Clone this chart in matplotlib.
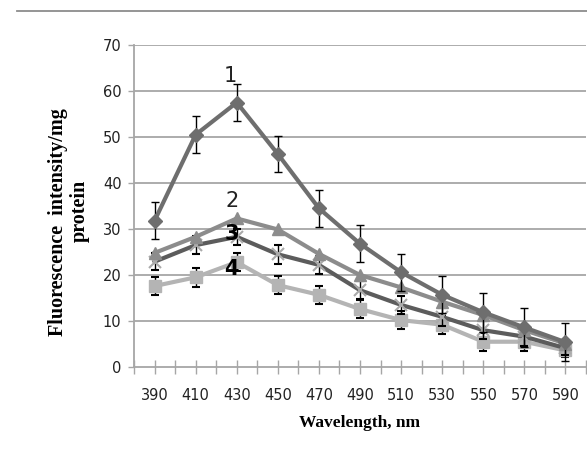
import matplotlib
matplotlib.use("Agg")
import matplotlib.pyplot as plt
from matplotlib.lines import Line2D
import numpy as np

wavelengths = [390, 410, 430, 450, 470, 490, 510, 530, 550, 570, 590]
series1 = [31.8, 50.5, 57.5, 46.3, 34.5, 26.8, 20.6, 15.7, 11.9, 8.6, 5.4]
err1 = [4, 4, 4, 4, 4, 4, 4, 4, 4.2, 4.2, 4.2]
series2 = [24.8, 28.3, 32.3, 29.9, 24.6, 20.0, 17.3, 14.2, 11.3, 8.0, 5.1]
series3 = [22.9, 26.5, 28.3, 24.5, 22.2, 16.7, 13.5, 10.9, 8.0, 6.6, 4.1]
err3 = [1.8, 2, 1.8, 2, 2, 2, 2, 2, 2, 2, 1.5]
series4 = [17.6, 19.5, 22.8, 17.8, 15.7, 12.6, 10.2, 9.2, 5.5, 5.5, 3.6]
err4 = [2, 2, 2, 2, 2, 2, 2, 2, 2, 2, 1.5]
labels = ["1", "2", "3", "4"]
yticks = [0, 10, 20, 30, 40, 50, 60, 70]

tick_font = ["Liberation Sans Narrow", "DejaVu Sans"]

fig = plt.figure(figsize=(5.87, 4.5), dpi=100)
ax = fig.add_axes([0.2283, 0.1844, 0.770, 0.7156])

x = np.arange(len(wavelengths))
grid_c = "#a6a6a6"
for yv in yticks[1:]:
    ax.axhline(yv, color=grid_c, lw=1.3, zorder=0)

# series 4 (light gray squares)
ax.errorbar(x, series4, yerr=err4, color="#b4b4b4", lw=3, marker="s", ms=8,
            mfc="#b4b4b4", mec="#b4b4b4", ecolor="black", elinewidth=1,
            capsize=3, capthick=1.5, zorder=3)
# series 3 (dark gray, X markers)
ax.errorbar(x, series3, yerr=err3, color="#5c5c5c", lw=3, marker="x", ms=9,
            mew=1.5, mec="#aaaaaa", ecolor="black", elinewidth=1,
            capsize=3, capthick=1, zorder=4)
# series 2 (mid gray triangles)
ax.plot(x, series2, color="#8c8c8c", lw=3, marker="^", ms=9,
        mfc="#8c8c8c", mec="#8c8c8c", zorder=5)
# series 1 (dark gray diamonds)
ax.errorbar(x, series1, yerr=err1, color="#6e6e6e", lw=3, marker="D", ms=7,
            mfc="#6e6e6e", mec="#6e6e6e", ecolor="black", elinewidth=1,
            capsize=3, capthick=1, zorder=6)

# number labels near 430 nm
ax.text(2 - 0.15, series1[2] + 3.6, labels[0], fontsize=15, color="#222222",
        ha="center", va="bottom", family=tick_font, zorder=8)
ax.text(2 - 0.12, series2[2] + 1.6, labels[1], fontsize=15, color="#222222",
        ha="center", va="bottom", family=tick_font, zorder=8)
ax.text(2 - 0.12, series3[2] - 1.6, labels[2], fontsize=15, color="black",
        fontweight="bold", ha="center", va="bottom", family=tick_font, zorder=8)
ax.text(2 - 0.12, series4[2] - 3.7, labels[3], fontsize=15, color="black",
        fontweight="bold", ha="center", va="bottom", family=tick_font, zorder=8)

ax.set_xlim(-0.5, len(wavelengths) - 0.5)
ax.set_ylim(0, 70)
ax.set_xticks(x)
ax.set_xticklabels([str(w) for w in wavelengths], fontsize=10.5, color="#222222",
                   family=tick_font)
ax.set_xticks(np.arange(-0.5, len(wavelengths), 1.0), minor=True)
ax.set_yticks(yticks)
ax.set_yticklabels([str(v) for v in yticks], fontsize=10.5, color="#222222",
                   family=tick_font)

ax.tick_params(axis="x", which="both", direction="inout", length=10, width=1,
               color=grid_c, pad=10)
ax.tick_params(axis="y", which="both", direction="out", length=4, width=1,
               color=grid_c, pad=5)

for s in ["top", "right"]:
    ax.spines[s].set_visible(False)
for s in ["left", "bottom"]:
    ax.spines[s].set_color(grid_c)
    ax.spines[s].set_linewidth(1.3)

ax.set_xlabel("Wavelength, nm", family="Liberation Serif", fontweight="bold",
              fontsize=12.5, labelpad=9)

# y label as two rotated lines
fig.text(58 / 587, 1 - 222 / 450, "Fluorescence  intensity/mg", rotation=90,
         family="Liberation Serif", fontweight="bold", fontsize=14.5,
         ha="center", va="center")
fig.text(80 / 587, 1 - 211 / 450, "protein", rotation=90,
         family="Liberation Serif", fontweight="bold", fontsize=14.5,
         ha="center", va="center")

# top horizontal line across the figure
fig.add_artist(Line2D([17 / 587, 1.0], [1 - 10.5 / 450] * 2, color="#8c8c8c",
                      lw=1.3, transform=fig.transFigure))

fig.savefig("out.png", dpi=100)
